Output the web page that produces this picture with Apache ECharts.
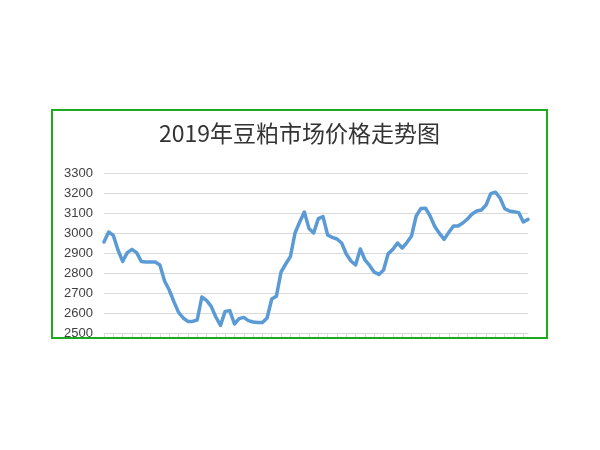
<!DOCTYPE html>
<html>
<head>
<meta charset="utf-8">
<script src="https://cdn.jsdelivr.net/npm/echarts@6/dist/echarts.min.js"></script>
<style>
  html, body { margin: 0; padding: 0; background: #ffffff; width: 600px; height: 450px; overflow: hidden; }
  #frame { position: absolute; left: 51px; top: 109px; width: 497px; height: 230px; box-sizing: border-box; border: 2px solid #1fa91f; overflow: hidden; background: #fff; }
  #chart { position: absolute; left: 0; top: 0; width: 493px; height: 260px; }
</style>
</head>
<body>
<div id="frame"><div id="chart"></div></div>
<script>
const titleText = '2019年豆粕市场价格走势图';
const yTicks = [2500, 2600, 2700, 2800, 2900, 3000, 3100, 3200, 3300];
const prices = [
  2955, 3005, 2988, 2915, 2858, 2902, 2918, 2902, 2858, 2855,
  2855, 2855, 2840, 2760, 2715, 2657, 2603, 2575, 2558, 2558,
  2565, 2680, 2663, 2633, 2580, 2538, 2608, 2612, 2545, 2572,
  2578, 2562, 2555, 2552, 2552, 2575, 2670, 2684, 2805, 2845,
  2882, 3000, 3055, 3105, 3022, 3000, 3072, 3082, 2990, 2978,
  2970, 2950, 2895, 2860, 2840, 2920, 2866, 2838, 2804, 2793,
  2815, 2897, 2918, 2950, 2925, 2952, 2985, 3085, 3122, 3124,
  3085, 3032, 2998, 2968, 3003, 3035, 3035, 3050, 3070, 3095,
  3110, 3115, 3140, 3197, 3204, 3175, 3122, 3110, 3106, 3102,
  3055, 3068
];
const days = prices.map((_, i) => String(i + 1));

const chart = echarts.init(document.getElementById('chart'));
chart.setOption({
  animation: false,
  backgroundColor: '#ffffff',
  title: {
    text: titleText,
    left: 'center',
    top: 11,
    padding: 0,
    textStyle: { fontFamily: 'Noto Sans CJK SC', fontSize: 23, fontWeight: 'normal', color: '#333333' }
  },
  grid: { left: 51, right: 18, top: 62, bottom: 38, containLabel: false },
  xAxis: {
    type: 'category',
    data: days,
    boundaryGap: false,
    axisLabel: { show: false },
    axisLine: { show: true, lineStyle: { color: '#d9d9d9', width: 1 } },
    axisTick: { show: true, interval: 1, length: 5, lineStyle: { color: '#d9d9d9' } },
    splitLine: { show: false }
  },
  yAxis: {
    type: 'value',
    min: yTicks[0],
    max: yTicks[yTicks.length - 1],
    interval: 100,
    axisLine: { show: false },
    axisTick: { show: false },
    axisLabel: { margin: 11, fontSize: 13, color: '#404040', fontFamily: 'Liberation Sans', formatter: (v) => String(v) },
    splitLine: { lineStyle: { color: '#d9d9d9', width: 1 } }
  },
  series: [{
    type: 'line',
    data: prices,
    symbol: 'none',
    smooth: false,
    lineStyle: { color: '#5b9bd5', width: 3.5, join: 'round', cap: 'round' }
  }]
});
</script>
</body>
</html>
